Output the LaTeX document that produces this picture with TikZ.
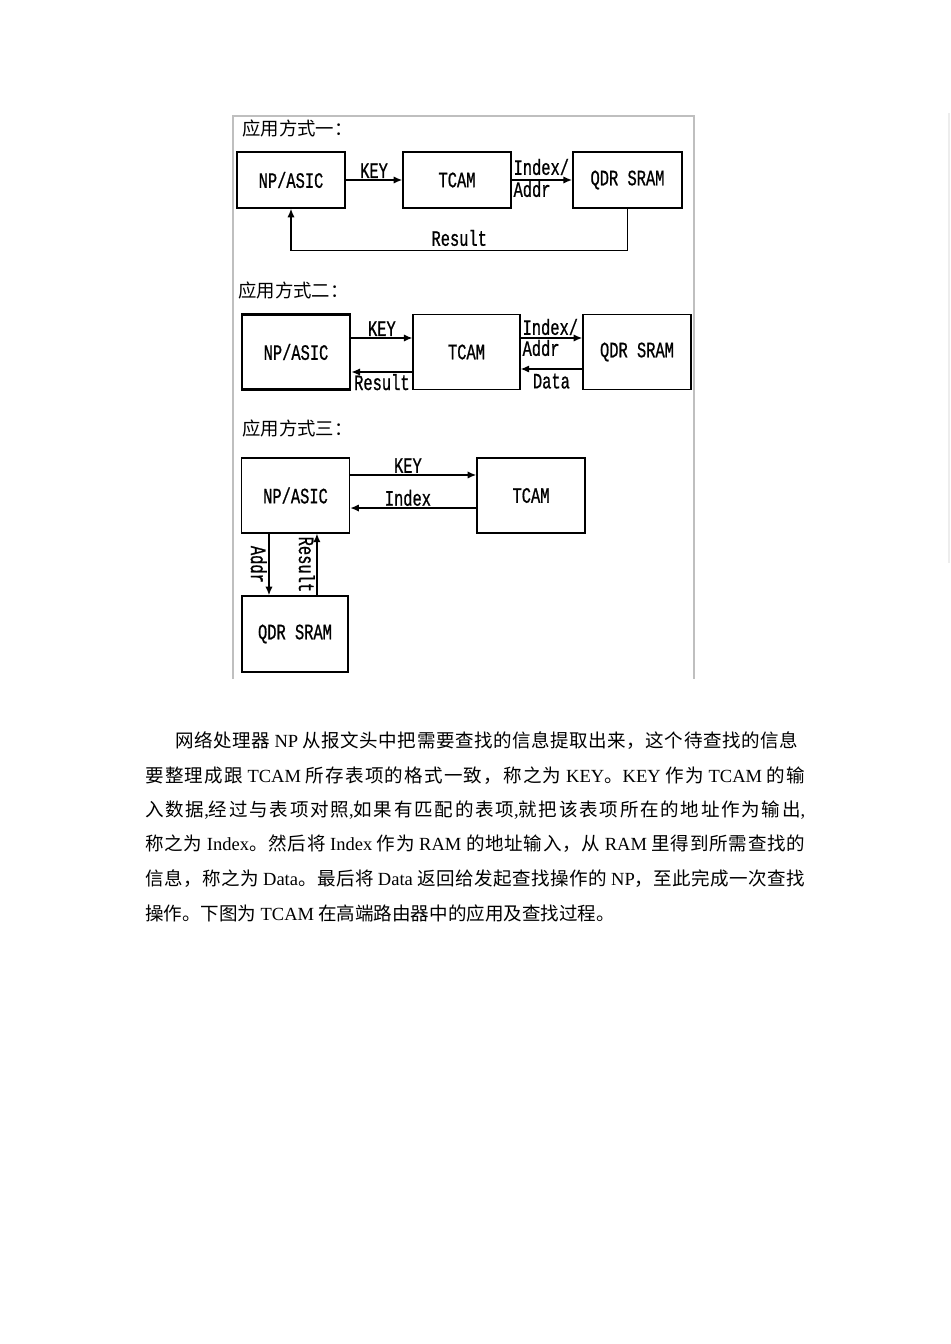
\documentclass[tikz,border=0pt]{standalone}
\usepackage{fontspec}
\setmainfont{Liberation Serif}
\newfontfamily\cjk{Noto Sans CJK SC}
\newfontfamily\mono[FakeStretch=0.7, FakeBold=0.8]{Liberation Mono}
\usetikzlibrary{arrows.meta, positioning}
\newXeTeXintercharclass\hanclass
\newcount\hancode
\hancode="3000
\loop \XeTeXcharclass\hancode=\hanclass \advance\hancode by 1 \ifnum\hancode<"A000 \repeat
\hancode="FF00
\loop \XeTeXcharclass\hancode=\hanclass \advance\hancode by 1 \ifnum\hancode<"FFF0 \repeat
\XeTeXinterchartokenstate=1
\XeTeXinterchartoks\hanclass\hanclass = {\hskip 0pt plus 3pt\relax}
\XeTeXinterchartoks 0 \hanclass = {\hskip 0pt plus 3pt\relax}
\XeTeXinterchartoks\hanclass 0 = {\hskip 0pt plus 3pt\relax}
\newcommand{\lat}[1]{{\rmfamily #1}}
\newcommand{\jline}[2]{\makebox[#1][s]{#2}}

\tikzset{
  blk/.style={draw, line width=1.1pt, minimum width=81pt, minimum height=56pt,
    inner sep=0pt, font=\mono\fontsize{16.5pt}{18pt}\selectfont},
  lbl/.style={inner sep=1pt, font=\mono\fontsize{16.5pt}{18pt}\selectfont},
  ttl/.style={anchor=west, inner sep=0pt, font=\cjk\fontsize{13.8pt}{16pt}\selectfont},
  flow/.style={line width=1.1pt, -{Latex[length=6.5pt,width=5.5pt]}},
  txt/.style={anchor=west, inner sep=0pt, font=\cjk\fontsize{13.9pt}{17pt}\selectfont}
}

\begin{document}
\begin{tikzpicture}[x=0.75pt, y=-0.75pt]
  \useasboundingbox (0,0) rectangle (950,1344);
  \draw[black!25, line width=0.8pt] (233,679) -- (233,116) -- (694,116) -- (694,679);
  \draw[black!7, line width=1pt] (949,113) -- (949,563);

  % 应用方式一
  \node[ttl] (t1) at (242,129) {应用方式一：};
  \node[blk, minimum height=42pt] (np1) at (291,180) {NP/ASIC};
  \node[blk, minimum height=42pt] (tcam1) at (457,180) {TCAM};
  \node[blk, minimum height=42pt, minimum width=82pt] (sram1) at (627.5,180) {QDR SRAM};
  \draw[flow] (np1) -- (tcam1) node[lbl, midway, above] {KEY};
  \draw[flow] (tcam1) -- (sram1);
  \node[lbl, anchor=west] (ia1) at (512,167) {Index/};
  \node[lbl, anchor=west] (ad1) at (512,189) {Addr};
  \draw[flow] (sram1.south) -- ++(0,42) -| (np1.south) node[lbl, pos=0.25, above=2pt] {Result};

  % 应用方式二
  \node[ttl] (t2) at (238,290) {应用方式二：};
  \node[blk, line width=2pt] (np2) at (296,352) {NP/ASIC};
  \node[blk, minimum width=80pt] (tcam2) at (466.5,352) {TCAM};
  \node[blk] (sram2) at (637,352) {QDR SRAM};
  \draw[flow] ([yshift=10.5pt]np2.east) -- ([yshift=10.5pt]tcam2.west) node[lbl, midway, above] {KEY};
  \draw[flow] ([yshift=-15pt]tcam2.west) -- ([yshift=-15pt]np2.east) node[lbl, midway, below] {Result};
  \draw[flow] ([yshift=10.5pt]tcam2.east) -- ([yshift=10.5pt]sram2.west);
  \node[lbl, anchor=west] (ia2) at (521,327) {Index/};
  \node[lbl, anchor=west] (ad2) at (521,348) {Addr};
  \draw[flow] ([yshift=-12.75pt]sram2.west) -- ([yshift=-12.75pt]tcam2.east) node[lbl, midway, below=2pt] {Data};

  % 应用方式三
  \node[ttl] (t3) at (242,428) {应用方式三：};
  \node[blk] (np3) at (295.5,495.5) {NP/ASIC};
  \node[blk] (tcam3) at (531,495.5) {TCAM};
  \node[blk, minimum width=79.5pt, minimum height=57pt] (sram3) at (295,634) {QDR SRAM};
  \draw[flow] ([yshift=15.4pt]np3.east) -- ([yshift=15.4pt]tcam3.west) node[lbl, midway, above, xshift=-4pt] {KEY};
  \draw[flow] ([yshift=-9.4pt]tcam3.west) -- ([yshift=-9.4pt]np3.east) node[lbl, midway, above, xshift=-4pt] {Index};
  \draw[flow] ([xshift=-19.9pt]np3.south) -- ([xshift=-19.9pt]np3.south |- sram3.north) node[lbl, midway, rotate=-90, anchor=north] {Addr};
  \draw[flow] ([xshift=16.1pt]np3.south |- sram3.north) -- ([xshift=16.1pt]np3.south) node[lbl, midway, rotate=-90, anchor=north] {Result};

  % 正文
  \node[txt] (p1) at (175,741) {\jline{467pt}{网络处理器 \lat{NP} 从报文头中把需要查找的信息提取出来，这个待查找的信息}};
  \node[txt] (p2) at (145,776) {\jline{495pt}{要整理成跟 \lat{TCAM} 所存表项的格式一致，称之为 \lat{KEY}。\lat{KEY} 作为 \lat{TCAM} 的输}};
  \node[txt] (p3) at (145,810) {\jline{495pt}{入数据\lat{,}经过与表项对照\lat{,}如果有匹配的表项\lat{,}就把该表项所在的地址作为输出\lat{,}}};
  \node[txt] (p4) at (145,844) {\jline{495pt}{称之为 \lat{Index}。然后将 \lat{Index} 作为 \lat{RAM} 的地址输入，从 \lat{RAM} 里得到所需查找的}};
  \node[txt] (p5) at (145,879) {\jline{495pt}{信息，称之为 \lat{Data}。最后将 \lat{Data} 返回给发起查找操作的 \lat{NP}，至此完成一次查找}};
  \node[txt] (p6) at (145,913) {操作。下图为 \lat{TCAM} 在高端路由器中的应用及查找过程。};
\end{tikzpicture}
\end{document}
